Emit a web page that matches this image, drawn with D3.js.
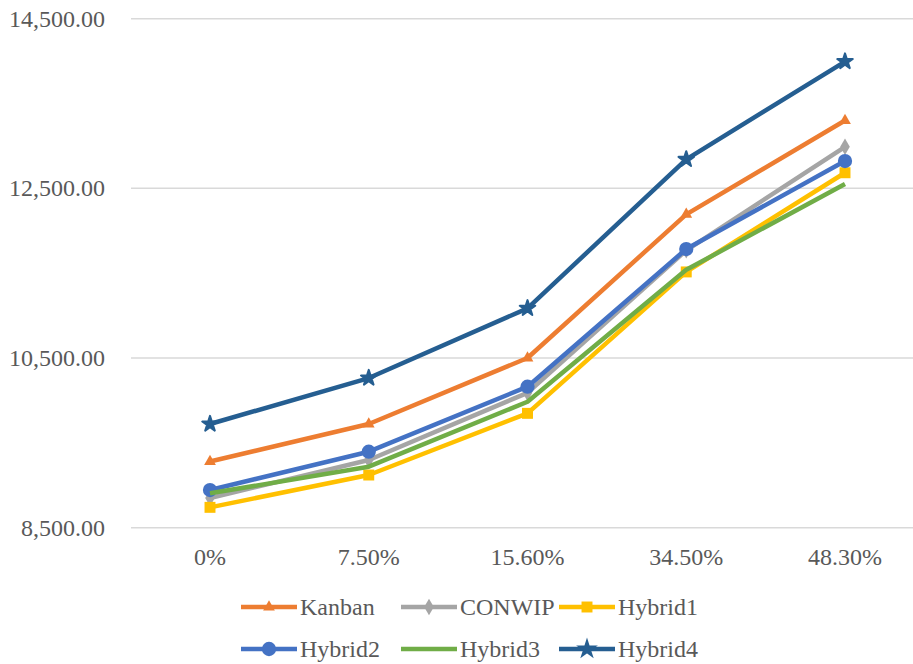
<!DOCTYPE html>
<html><head><meta charset="utf-8">
<script src="https://cdn.jsdelivr.net/npm/d3@7"></script>
<style>body{margin:0;background:#fff}</style>
</head><body>
<svg id="c" width="913" height="664"></svg>
<script>
const categories = ["0%", "7.50%", "15.60%", "34.50%", "48.30%"];
const yTicks = [8500, 10500, 12500, 14500];
const seriesNames = ["Kanban", "CONWIP", "Hybrid1", "Hybrid2", "Hybrid3", "Hybrid4"];
const kanban  = [9280, 9722, 10500, 12194, 13300];
const conwip  = [8850, 9298, 10090, 11770, 12990];
const hybrid1 = [8740, 9121, 9848, 11515, 12684];
const hybrid2 = [8944, 9396, 10162, 11785, 12822];
const hybrid3 = [8905, 9219, 9985, 11540, 12551];
const hybrid4 = [9722, 10264, 11086, 12842, 13995];
const colors  = ["#ED7D31", "#A5A5A5", "#FFC000", "#4472C4", "#70AD47", "#255E91"];
const markers = ["triangle", "diamond", "square", "circle", "none", "star"];

const values = [kanban, conwip, hybrid1, hybrid2, hybrid3, hybrid4];
const svg = d3.select("#c");
const FONT = '"Liberation Serif"';
const FS = "24px";

const x = d3.scalePoint().domain(categories).range([210, 845]).padding(0);
const y = d3.scaleLinear().domain([8500, 14500]).range([527.7, 18.7]);

svg.append("g").selectAll("line").data(yTicks).join("line")
  .attr("x1", 131).attr("x2", 913)
  .attr("y1", d => y(d)).attr("y2", d => y(d))
  .attr("stroke", "#D9D9D9").attr("stroke-width", 1.5);

svg.selectAll("text.ylab").data(yTicks).join("text").attr("class", "ylab")
  .style("font-family", FONT).style("font-size", FS)
  .attr("x", 105).attr("y", d => y(d) + 8)
  .attr("text-anchor", "end")
  .attr("fill", "#595959").text(d => d3.format(",.2f")(d));

svg.selectAll("text.xlab").data(categories).join("text").attr("class", "xlab")
  .style("font-family", FONT).style("font-size", FS)
  .attr("x", d => x(d)).attr("y", 565)
  .attr("text-anchor", "middle")
  .attr("fill", "#595959").text(d => d);

function markerPath(type) {
  switch (type) {
    case "triangle": return d3.symbol(d3.symbolTriangle, 60)();
    case "diamond": return d3.symbol(d3.symbolDiamond, 80)();
    case "square": return d3.symbol(d3.symbolSquare, 120)();
    case "circle": return d3.symbol(d3.symbolCircle, 160)();
    case "star": return d3.symbol(d3.symbolStar, 75)();
    default: return null;
  }
}

const line = d3.line().x((d, i) => x(categories[i])).y(d => y(d));

values.forEach((vals, si) => {
  const g = svg.append("g");
  g.append("path").datum(vals).attr("d", line)
    .attr("fill", "none").attr("stroke", colors[si]).attr("stroke-width", 4.5)
    .attr("stroke-linejoin", "round");
  const p = markerPath(markers[si]);
  if (p) {
    g.selectAll("path.m").data(vals).join("path").attr("class", "m")
      .attr("d", p)
      .attr("transform", (d, i) => `translate(${x(categories[i])},${y(d)})`)
      .attr("fill", colors[si])
      .attr("stroke", markers[si] === "star" ? colors[si] : "none")
      .attr("stroke-width", 2).attr("stroke-linejoin", "round");
  }
});

const legX = [241, 401, 559];
const legY = [607, 649];
seriesNames.forEach((name, si) => {
  const lx = legX[si % 3], ly = legY[Math.floor(si / 3)];
  svg.append("line").attr("x1", lx).attr("x2", lx + 56).attr("y1", ly).attr("y2", ly)
    .attr("stroke", colors[si]).attr("stroke-width", 4.5);
  const p = markerPath(markers[si]);
  if (p) svg.append("path").attr("d", p).attr("transform", `translate(${lx + 28},${ly})`)
    .attr("fill", colors[si])
    .attr("stroke", markers[si] === "star" ? colors[si] : "none").attr("stroke-width", 2);
  svg.append("text")
    .style("font-family", FONT).style("font-size", FS)
    .attr("x", lx + 59).attr("y", ly + 8)
    .attr("fill", "#595959").text(name);
});
</script>
</body></html>
